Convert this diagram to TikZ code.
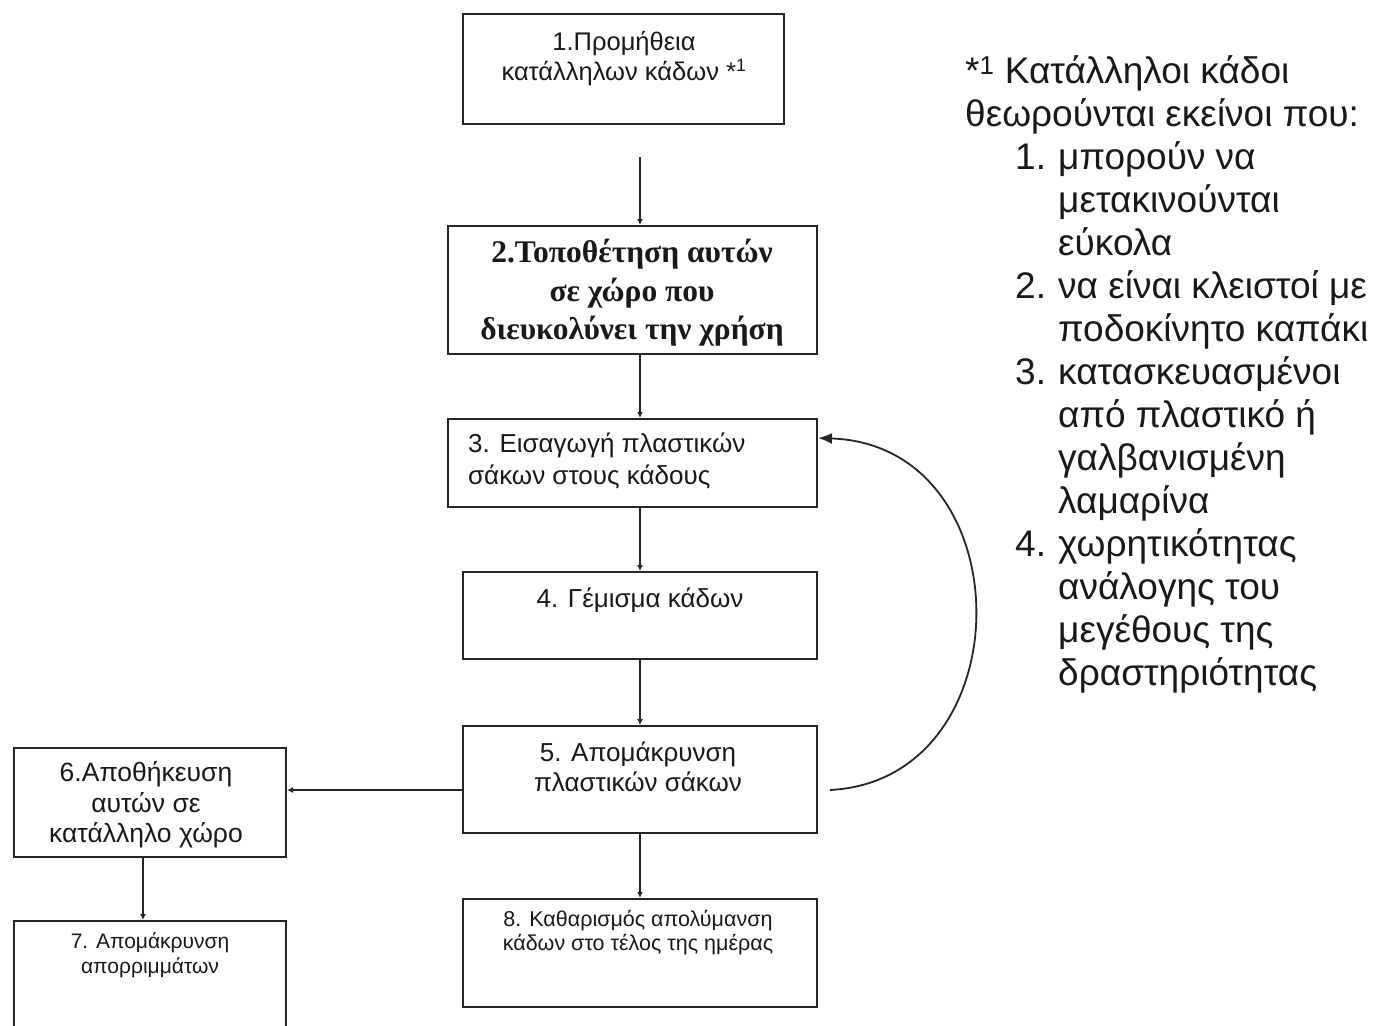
\documentclass[tikz,border=0pt]{standalone}
\usepackage{fontspec}
\setmainfont{Liberation Sans}
\newfontfamily\boldserif{Liberation Serif}
\usetikzlibrary{arrows.meta}
\tikzset{
  box/.style={draw=black!85, line width=2pt, rectangle, inner sep=0pt, anchor=north west},
  lbl/.style={inner sep=0pt, align=center, text=black!90},
  flow/.style={draw=black!85, line width=1.8pt, -{Latex[length=6pt,width=6pt]}},
  loop/.style={draw=black!85, line width=1.8pt, -{Latex[length=14pt,width=11pt]}}
}
\newcommand{\fsz}[2]{\fontsize{#1}{#2}\selectfont}
\begin{document}
\begin{tikzpicture}[x=1pt,y=-1pt]
\useasboundingbox[fill=white] (0,0) rectangle (1380,1025);

% process boxes
\node[box, minimum width=321pt, minimum height=110pt] (b1) at (462,13) {};
\node[box, minimum width=369pt, minimum height=128pt] (b2) at (447,225) {};
\node[box, minimum width=369pt, minimum height=88pt]  (b3) at (447,418) {};
\node[box, minimum width=354pt, minimum height=87pt]  (b4) at (462,571) {};
\node[box, minimum width=354pt, minimum height=107pt] (b5) at (462,725) {};
\node[box, minimum width=272pt, minimum height=109pt] (b6) at (13,747) {};
\node[box, minimum width=272pt, minimum height=120pt] (b7) at (13,920) {};
\node[box, minimum width=354pt, minimum height=108pt] (b8) at (462,898) {};

% box texts
\node[lbl, font=\fsz{25.5}{30}] (t1) at (624,59) {1.Προμήθεια\\κατάλληλων κάδων *\textsuperscript{1}};
\node[lbl, font=\boldserif\bfseries\fsz{31.5}{38.5}] (t2) at (632,293) {2.Τοποθέτηση αυτών\\σε χώρο που\\διευκολύνει την χρήση};
\node[lbl, align=left, anchor=west, font=\fsz{26}{32}] (t3) at (468,461) {3. Εισαγωγή πλαστικών\\σάκων στους κάδους};
\node[lbl, font=\fsz{26}{30}] (t4) at (640,600) {4. Γέμισμα κάδων};
\node[lbl, font=\fsz{26}{30}] (t5) at (638,767) {5. Απομάκρυνση\\πλαστικών σάκων};
\node[lbl, font=\fsz{26.5}{30.5}] (t6) at (146,805) {6.Αποθήκευση\\αυτών σε\\κατάλληλο χώρο};
\node[lbl, font=\fsz{21}{25}] (t7) at (150,955) {7. Απομάκρυνση\\απορριμμάτων};
\node[lbl, font=\fsz{21.5}{24}] (t8) at (638,933) {8. Καθαρισμός απολύμανση\\κάδων στο τέλος της ημέρας};

% footnote on suitable bins
\node[lbl, align=left, anchor=north west, font=\fsz{37}{43}] (note) at (965,55) {%
*\textsuperscript{1} Κατάλληλοι κάδοι\\
θεωρούνται εκείνοι που:\\
\hspace*{50pt}\makebox[43pt][l]{1.}μπορούν να\\
\hspace*{93pt}μετακινούνται\\
\hspace*{93pt}εύκολα\\
\hspace*{50pt}\makebox[43pt][l]{2.}να είναι κλειστοί με\\
\hspace*{93pt}ποδοκίνητο καπάκι\\
\hspace*{50pt}\makebox[43pt][l]{3.}κατασκευασμένοι\\
\hspace*{93pt}από πλαστικό ή\\
\hspace*{93pt}γαλβανισμένη\\
\hspace*{93pt}λαμαρίνα\\
\hspace*{50pt}\makebox[43pt][l]{4.}χωρητικότητας\\
\hspace*{93pt}ανάλογης του\\
\hspace*{93pt}μεγέθους της\\
\hspace*{93pt}δραστηριότητας};

% connectors
\coordinate (c12) at (640,157);
\draw[flow] (c12) -- (c12 |- b2.north);
\draw[flow] (b2.south -| 640,0) -- (b3.north -| 640,0);
\draw[flow] (b3.south -| 640,0) -- (b4.north -| 640,0);
\draw[flow] (b4.south -| 640,0) -- (b5.north -| 640,0);
\draw[flow] (b5.south -| 640,0) -- (b8.north -| 640,0);
\draw[flow] (b5.west |- 0,790) -- (b6.east |- 0,790);
\draw[flow] (b6.south -| 143,0) -- (b7.north -| 143,0);
\coordinate (loopstart) at (830,790);
\draw[loop] (loopstart) .. controls (1025,780) and (1025,445) .. (b3.east |- 0,438);
\end{tikzpicture}
\end{document}
